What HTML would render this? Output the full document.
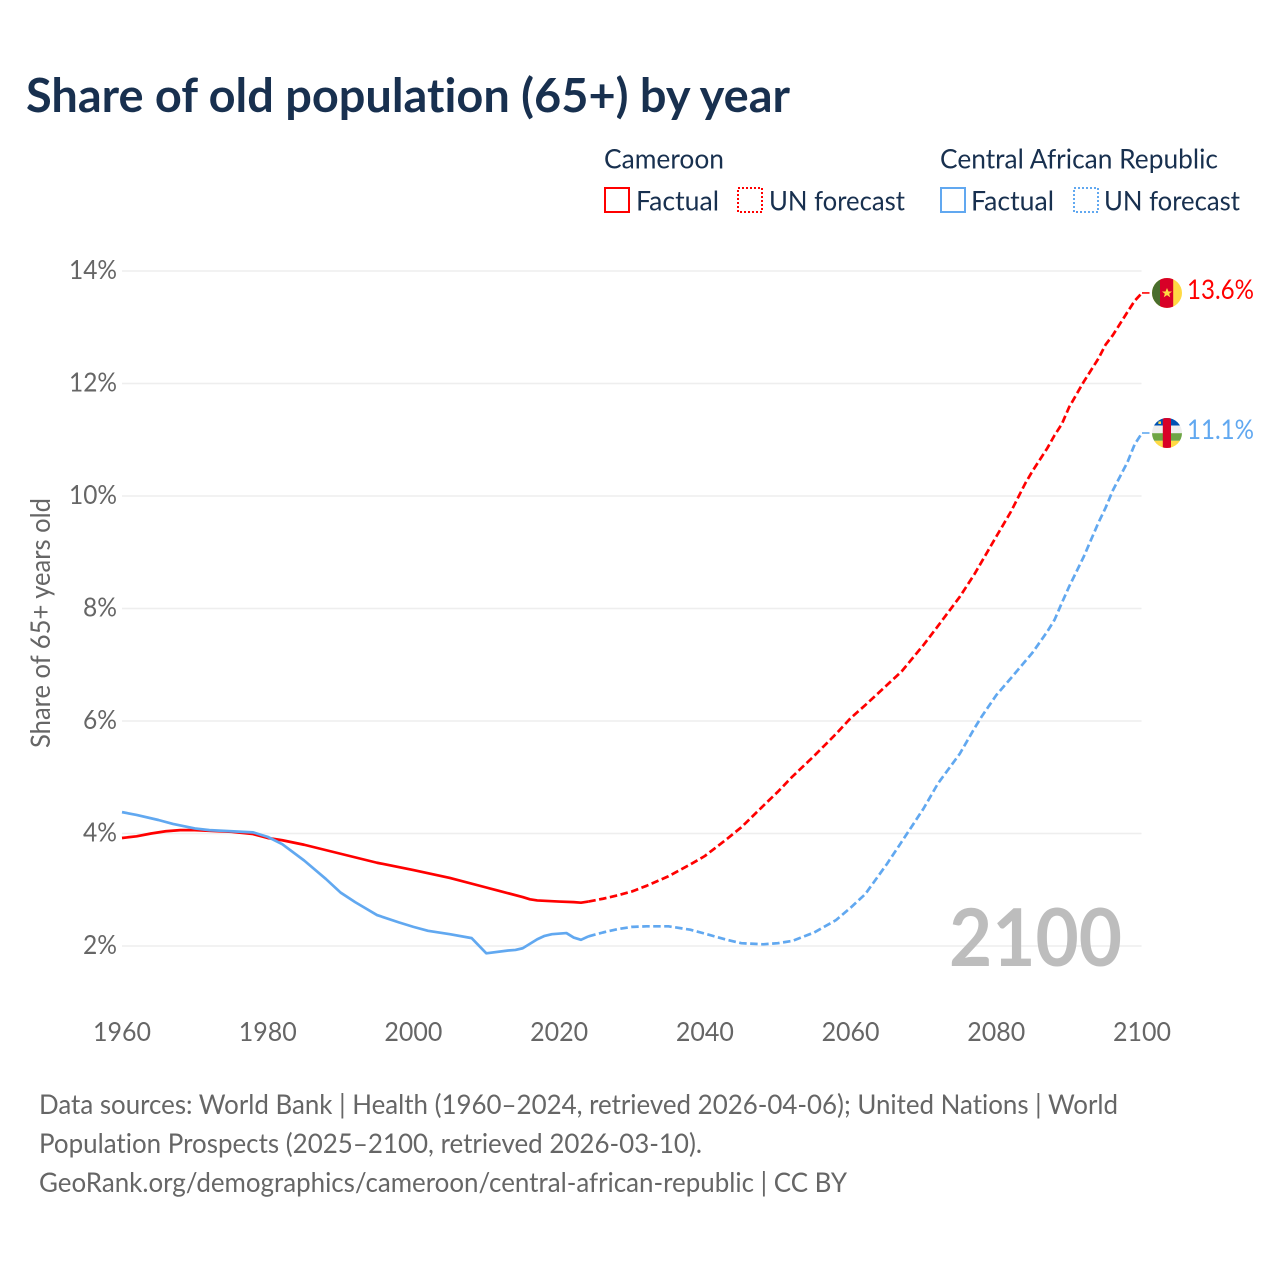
<!DOCTYPE html>
<html lang="en">
<head>
<meta charset="utf-8">
<title>Share of old population (65+) by year</title>
<style>
html,body{margin:0;padding:0;background:#fff;width:1280px;height:1280px;overflow:hidden}
svg{display:block}
text{font-family:"Lato","Carlito","Liberation Sans",sans-serif;font-variant-ligatures:none}
</style>
</head>
<body>
<svg id="chart" xmlns="http://www.w3.org/2000/svg" width="1280" height="1280" viewBox="0 0 1280 1280">
  <rect x="0" y="0" width="1280" height="1280" fill="#fff"/>
  <text x="26" y="112" font-size="47" font-weight="700" fill="#18304f" textLength="764" lengthAdjust="spacingAndGlyphs">Share of old population (65+) by year</text>

  <g font-size="27" fill="#18304f">
    <text x="604" y="168.4" textLength="120" lengthAdjust="spacingAndGlyphs">Cameroon</text>
    <rect x="605" y="188" width="24" height="24" fill="none" stroke="#ff0000" stroke-width="2"/>
    <text x="636" y="210.4" textLength="83" lengthAdjust="spacingAndGlyphs">Factual</text>
    <rect x="738" y="188" width="24" height="24" fill="none" stroke="#ff0000" stroke-width="2" stroke-dasharray="2 2"/>
    <text x="769" y="210.4" textLength="136" lengthAdjust="spacingAndGlyphs">UN forecast</text>
    <text x="940" y="168.4" textLength="278" lengthAdjust="spacingAndGlyphs">Central African Republic</text>
    <rect x="941" y="188" width="24" height="24" fill="none" stroke="#61a8f0" stroke-width="2"/>
    <text x="971" y="210.4" textLength="83" lengthAdjust="spacingAndGlyphs">Factual</text>
    <rect x="1074" y="188" width="24" height="24" fill="none" stroke="#61a8f0" stroke-width="2" stroke-dasharray="2 2"/>
    <text x="1104" y="210.4" textLength="136" lengthAdjust="spacingAndGlyphs">UN forecast</text>
  </g>

  <g id="grid"></g>
  <g id="yticks"></g>
  <g id="xticks"></g>

  <text transform="translate(50 623) rotate(-90)" text-anchor="middle" font-size="27" fill="#666666" textLength="250" lengthAdjust="spacingAndGlyphs">Share of 65+ years old</text>

  <text x="1122" y="966" text-anchor="end" font-size="80" font-weight="700" fill="#bdbdbd" textLength="173" lengthAdjust="spacingAndGlyphs">2100</text>

  <g id="series"></g>

  <g id="flag-cameroon">
    <clipPath id="clip-cm"><circle cx="0" cy="0" r="15"/></clipPath>
    <g clip-path="url(#clip-cm)">
      <rect x="-15" y="-15" width="30" height="30" fill="#ffda44"/>
      <rect x="-15" y="-15" width="8" height="30" fill="#496e2d"/>
      <rect x="-7" y="-15" width="13.2" height="30" fill="#d80027"/>
      <polygon points="0,-5 1.5,-1.5 5,-1.5 2.2,0.8 3.2,4.3 0,2.2 -3.2,4.3 -2.2,0.8 -5,-1.5 -1.5,-1.5" fill="#ffda44"/>
    </g>
  </g>
  <g id="flag-car">
    <clipPath id="clip-cf"><circle cx="0" cy="0" r="15"/></clipPath>
    <g clip-path="url(#clip-cf)">
      <rect x="-15" y="-15" width="30" height="7.6" fill="#0052b4"/>
      <rect x="-15" y="-7.4" width="30" height="7.6" fill="#eeeeee"/>
      <rect x="-15" y="0.2" width="30" height="7.6" fill="#6da544"/>
      <rect x="-15" y="7.8" width="30" height="7.6" fill="#ffda44"/>
      <rect x="-4.2" y="-15" width="8.2" height="30" fill="#d80027"/>
      <rect x="-8.6" y="-11.6" width="2.6" height="2.6" fill="#ffda44"/>
    </g>
  </g>
  <text id="label-cameroon" x="1187" font-size="27" fill="#ff0000" textLength="67" lengthAdjust="spacingAndGlyphs"></text>
  <text id="label-car" x="1187" font-size="27" fill="#61a8f0" textLength="67" lengthAdjust="spacingAndGlyphs"></text>

  <g font-size="27" fill="#666666">
    <text x="39" y="1114" textLength="1079" lengthAdjust="spacingAndGlyphs">Data sources: World Bank | Health (1960–2024, retrieved 2026-04-06); United Nations | World</text>
    <text x="39" y="1153" textLength="663" lengthAdjust="spacingAndGlyphs">Population Prospects (2025–2100, retrieved 2026-03-10).</text>
    <text x="39" y="1192" textLength="808" lengthAdjust="spacingAndGlyphs">GeoRank.org/demographics/cameroon/central-african-republic | CC BY</text>
  </g>
</svg>
<script>
const yTickValues = [2, 4, 6, 8, 10, 12, 14];
const xTickValues = [1960, 1980, 2000, 2020, 2040, 2060, 2080, 2100];

const factualYearsCameroon = [1960,1962,1964,1966,1968,1970,1975,1978,1980,1982,1985,1990,1995,2000,2005,2010,2015,2016,2017,2020,2022,2023,2024];
const factualValuesCameroon = [3.92,3.95,4.00,4.04,4.06,4.06,4.03,3.99,3.92,3.88,3.80,3.64,3.48,3.35,3.21,3.04,2.87,2.83,2.81,2.79,2.78,2.77,2.79];

const forecastYearsCameroon = [2024,2026,2028,2030,2032,2035,2038,2040,2043,2045,2048,2050,2052,2055,2058,2060,2062,2065,2067,2070,2072,2075,2077,2080,2082,2084,2085,2087,2088,2089,2090,2092,2094,2095,2096,2098,2099,2100];
const forecastValuesCameroon = [2.79,2.84,2.90,2.97,3.07,3.24,3.45,3.60,3.90,4.11,4.49,4.74,5.01,5.38,5.77,6.05,6.28,6.64,6.88,7.35,7.69,8.21,8.61,9.28,9.72,10.23,10.45,10.85,11.08,11.28,11.58,12.03,12.44,12.69,12.86,13.27,13.47,13.61];

const factualYearsCar = [1960,1962,1965,1967,1970,1972,1975,1978,1980,1982,1985,1988,1990,1992,1995,1998,2000,2002,2005,2008,2010,2013,2014,2015,2016,2017,2018,2019,2021,2022,2023,2024];
const factualValuesCar = [4.38,4.33,4.24,4.17,4.09,4.06,4.04,4.02,3.94,3.81,3.52,3.19,2.95,2.78,2.55,2.42,2.34,2.27,2.21,2.14,1.87,1.92,1.93,1.96,2.04,2.12,2.18,2.21,2.23,2.15,2.11,2.17];

const forecastYearsCar = [2024,2026,2028,2030,2032,2035,2038,2040,2043,2045,2048,2050,2052,2055,2058,2060,2062,2065,2067,2070,2072,2075,2077,2078,2080,2082,2085,2087,2088,2089,2090,2092,2094,2095,2096,2098,2099,2100];
const forecastValuesCar = [2.17,2.24,2.30,2.34,2.35,2.35,2.29,2.22,2.11,2.05,2.03,2.05,2.09,2.24,2.46,2.68,2.92,3.46,3.85,4.44,4.89,5.42,5.87,6.08,6.46,6.76,7.22,7.59,7.80,8.10,8.39,8.92,9.52,9.79,10.10,10.60,10.92,11.12];

const NS = 'http://www.w3.org/2000/svg';
function xScale(year) { return 122 + (year - 1960) * (1020 / 140); }
function yScale(value) { return 946 - (value - 2) * 56.25; }
function linePath(years, values) {
  return years.map(function (yr, i) {
    return (i ? 'L' : 'M') + xScale(yr).toFixed(2) + ' ' + yScale(values[i]).toFixed(2);
  }).join(' ');
}

const grid = document.getElementById('grid');
const yticks = document.getElementById('yticks');
yTickValues.forEach(function (v) {
  const ln = document.createElementNS(NS, 'line');
  
  
  ln.setAttribute('x1', 122);
  ln.setAttribute('x2', 1141.5);
  ln.setAttribute('y1', yScale(v));
  ln.setAttribute('y2', yScale(v));
  ln.setAttribute('stroke', '#eeeeee');
  ln.setAttribute('stroke-width', '1.5');
  grid.appendChild(ln);
  const t = document.createElementNS(NS, 'text');
  
  
  t.setAttribute('x', 117);
  t.setAttribute('y', yScale(v) + 8);
  t.setAttribute('text-anchor', 'end');
  t.setAttribute('font-size', '26.5');
  t.setAttribute('fill', '#666666');
  t.setAttribute('textLength', v >= 10 ? '48' : '34');
  t.setAttribute('lengthAdjust', 'spacingAndGlyphs');
  t.textContent = v + '%';
  yticks.appendChild(t);
});

const xticks = document.getElementById('xticks');
xTickValues.forEach(function (yr) {
  const t = document.createElementNS(NS, 'text');
  
  
  t.setAttribute('x', xScale(yr));
  t.setAttribute('y', 1041);
  t.setAttribute('text-anchor', 'middle');
  t.setAttribute('font-size', '26.5');
  t.setAttribute('fill', '#666666');
  t.setAttribute('textLength', '58');
  t.setAttribute('lengthAdjust', 'spacingAndGlyphs');
  t.textContent = yr;
  xticks.appendChild(t);
});

const series = document.getElementById('series');
function addLine(name, years, values, color, dashed) {
  const p = document.createElementNS(NS, 'path');
  
  
  p.setAttribute('d', linePath(years, values));
  p.setAttribute('fill', 'none');
  p.setAttribute('stroke', color);
  p.setAttribute('stroke-width', '2.7');
  p.setAttribute('stroke-linejoin', 'round');
  if (dashed) { p.setAttribute('stroke-dasharray', '7.5 3.5'); }
  series.appendChild(p);
}
addLine('line-cameroon-factual', factualYearsCameroon, factualValuesCameroon, '#ff0000', false);
addLine('line-cameroon-forecast', forecastYearsCameroon, forecastValuesCameroon, '#ff0000', true);
addLine('line-car-factual', factualYearsCar, factualValuesCar, '#61a8f0', false);
addLine('line-car-forecast', forecastYearsCar, forecastValuesCar, '#61a8f0', true);

function addConnector(name, value, color) {
  const c = document.createElementNS(NS, 'line');
  
  
  c.setAttribute('x1', xScale(2100));
  c.setAttribute('x2', xScale(2100) + 7.5);
  c.setAttribute('y1', yScale(value));
  c.setAttribute('y2', yScale(value));
  c.setAttribute('stroke', color);
  c.setAttribute('stroke-width', '1.6');
  series.appendChild(c);
}
const lastCameroon = forecastValuesCameroon[forecastValuesCameroon.length - 1];
const lastCar = forecastValuesCar[forecastValuesCar.length - 1];
addConnector('connector-cameroon', lastCameroon, '#ff0000');
addConnector('connector-car', lastCar, '#61a8f0');

document.getElementById('flag-cameroon').setAttribute('transform', 'translate(1167 ' + yScale(lastCameroon) + ')');
document.getElementById('flag-car').setAttribute('transform', 'translate(1167 ' + yScale(lastCar) + ')');
const lc = document.getElementById('label-cameroon');
lc.setAttribute('y', yScale(lastCameroon) + 6);
lc.textContent = lastCameroon.toFixed(1) + '%';
const lf = document.getElementById('label-car');
lf.setAttribute('y', yScale(lastCar) + 6);
lf.textContent = lastCar.toFixed(1) + '%';
</script>
</body>
</html>
